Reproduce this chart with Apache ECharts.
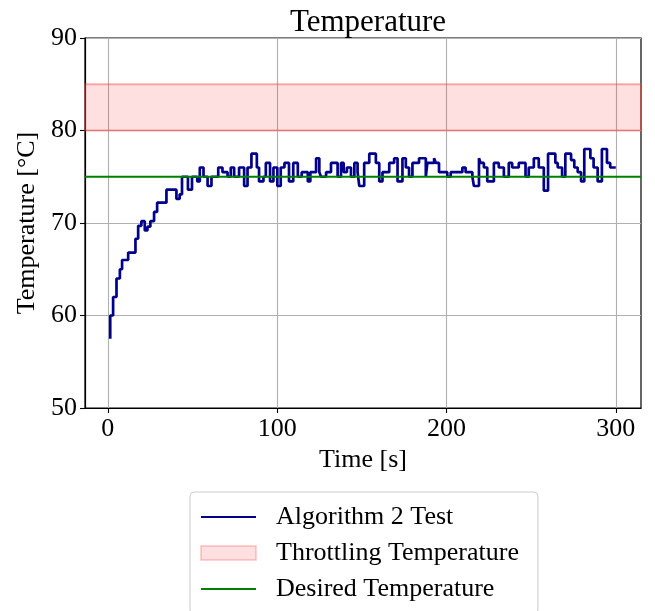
<!DOCTYPE html>
<html>
<head>
<meta charset="utf-8">
<script src="https://cdn.jsdelivr.net/npm/echarts@6/dist/echarts.min.js"></script>
<style>html,body{margin:0;padding:0;background:#fff;}#chart{width:655px;height:611px;}</style>
</head>
<body>
<div id="chart"></div>
<script>
// Sample times (s) and measured temperatures (°C) for "Algorithm 2 Test"
const times = [1.4,3.1,5.1,7.1,8.4,12.0,16.3,17.9,19.8,21.8,23.4,25.1,27.3,29.1,34.6,40.5,42.4,43.8,47.3,49.7,
  52.8,54.3,56.5,58.9,61.2,65.2,67.7,70.7,72.6,74.6,77.5,80.5,82.5,84.8,88.0,89.3,91.9,93.3,95.8,97.8,
  100.1,102.1,104.3,107.0,109.5,112.2,114.5,118.1,119.6,123.0,124.9,125.9,128.9,131.8,135.7,137.7,139.3,141.2,143.6,145.6,
  147.5,148.5,151.4,154.4,158.3,160.3,162.2,166.2,169.1,171.1,174.0,176.0,177.9,179.9,183.8,187.8,188.7,192.7,193.7,195.6,
  200.5,202.5,209.4,211.3,215.3,216.2,219.2,220.2,222.1,224.1,228.0,230.9,233.9,236.8,238.8,242.7,246.7,248.6,251.6,254.5,
  257.5,260.0,264.3,265.7,268.3,270.2,273.6,275.5,277.5,279.5,281.4,285.0,286.9,289.3,291.8,294.8,296.7,300.0];
const temps = [57.5,60.0,62.0,64.0,65.0,66.0,66.8,68.3,69.7,70.2,69.2,69.6,70.2,71.2,72.2,73.6,72.6,73.1,75.0,73.6,
  75.0,74.5,76.0,75.0,74.0,75.0,76.0,75.5,75.0,76.0,75.0,76.0,74.0,76.0,77.5,76.0,74.5,75.0,76.5,74.5,
  76.0,74.0,76.0,76.5,74.5,76.5,75.0,75.5,74.5,75.5,77.0,75.5,75.0,75.5,76.5,75.0,76.5,75.5,76.0,75.0,
  76.5,75.5,74.0,76.5,77.5,76.5,74.5,75.5,76.5,77.0,74.5,77.0,76.0,75.0,76.5,77.0,75.0,76.5,77.0,76.5,
  75.5,75.0,75.5,76.0,75.5,75.0,74.0,77.0,76.5,76.0,74.5,76.5,76.0,75.0,76.5,76.0,76.5,75.0,76.0,77.0,
  76.0,73.5,77.5,76.5,76.0,75.0,77.5,76.8,76.0,75.5,74.5,78.0,77.0,76.0,74.5,78.0,76.5,76.0];
const throttleBand = [80, 85];
const desiredTemp = 75;
const xTicks = [0, 100, 200, 300];
const yTicks = [50, 60, 70, 80, 90];
const xRange = [-13.5, 314.9];

const FONT = 'Liberation Serif';
const chart = echarts.init(document.getElementById('chart'), null, {renderer: 'canvas'});
const algData = times.map((t, i) => [t, temps[i]]);
const hiddenSymbol = {color: 'rgba(0,0,0,0)', borderColor: 'rgba(0,0,0,0)', borderWidth: 0, opacity: 0};

chart.setOption({
  animation: false,
  backgroundColor: '#fff',
  title: {
    text: 'Temperature', left: 363, top: 2, textAlign: 'center',
    textStyle: {fontFamily: FONT, fontSize: 31, fontWeight: 'normal', color: '#000'}
  },
  grid: {left: 85, top: 38, width: 556, height: 370, show: true, borderColor: '#000', borderWidth: 1.2, backgroundColor: 'transparent'},
  xAxis: {
    type: 'value', min: xRange[0], max: xRange[1],
    name: 'Time [s]', nameLocation: 'middle', nameGap: 38,
    nameTextStyle: {fontFamily: FONT, fontSize: 26, color: '#000'},
    axisLine: {show: true, onZero: false, lineStyle: {color: '#000', width: 1.2}},
    axisTick: {show: true, length: 5, lineStyle: {color: '#000', width: 1.1}, customValues: xTicks},
    axisLabel: {customValues: xTicks, fontFamily: FONT, fontSize: 26, color: '#000', margin: 8},
    splitLine: {show: true, lineStyle: {color: '#b0b0b0', width: 1.1}}
  },
  yAxis: {
    type: 'value', min: yTicks[0], max: yTicks[yTicks.length - 1], interval: 10,
    name: 'Temperature [°C]', nameLocation: 'middle', nameGap: 45, nameRotate: 90,
    nameTextStyle: {fontFamily: FONT, fontSize: 26, color: '#000'},
    axisLine: {show: true, onZero: false, lineStyle: {color: '#000', width: 1.2}},
    axisTick: {show: true, length: 5, lineStyle: {color: '#000', width: 1.1}},
    axisLabel: {fontFamily: FONT, fontSize: 26, color: '#000', margin: 8},
    splitLine: {show: true, lineStyle: {color: '#b0b0b0', width: 1.1}}
  },
  legend: {
    orient: 'vertical', left: 190, top: 492, height: 140,
    itemWidth: 55, itemHeight: 14, itemGap: 10,
    padding: [12, 19, 12, 10],
    borderColor: '#cccccc', borderWidth: 1, borderRadius: 4, backgroundColor: '#fff',
    textStyle: {fontFamily: FONT, fontSize: 26, color: '#000', padding: [0, 0, 0, 15]},
    data: [
      {name: 'Algorithm 2 Test', itemStyle: hiddenSymbol},
      {name: 'Throttling Temperature', icon: 'rect', itemStyle: {color: 'rgba(255,0,0,0.12)', borderColor: 'rgba(255,90,90,0.35)', borderWidth: 1.5}},
      {name: 'Desired Temperature', itemStyle: hiddenSymbol}
    ]
  },
  series: [
    {
      name: 'Algorithm 2 Test', type: 'line', step: 'start', data: algData,
      showSymbol: false, symbol: 'none',
      lineStyle: {color: '#00008b', width: 2.7}, itemStyle: {color: '#00008b'}, z: 3
    },
    {
      name: 'Throttling Temperature', type: 'line', data: [],
      itemStyle: {color: 'rgba(255,0,0,0.12)'},
      markArea: {
        silent: true,
        itemStyle: {color: 'rgba(255,0,0,0.12)', borderColor: 'rgba(255,70,70,0.45)', borderWidth: 1.8},
        data: [[{yAxis: throttleBand[0]}, {yAxis: throttleBand[1]}]]
      }, z: 2
    },
    {
      name: 'Desired Temperature', type: 'line', data: [[xRange[0], desiredTemp], [xRange[1], desiredTemp]],
      showSymbol: false, symbol: 'none',
      lineStyle: {color: '#008000', width: 2}, itemStyle: {color: '#008000'}, z: 4
    }
  ]
});
</script>
</body>
</html>
